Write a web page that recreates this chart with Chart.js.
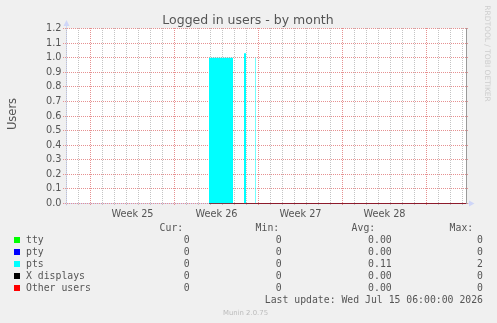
<!DOCTYPE html>
<html><head><meta charset="utf-8">
<script src="https://cdn.jsdelivr.net/npm/chart.js@4/dist/chart.umd.min.js"></script>
<style>html,body{margin:0;padding:0;background:#F0F0F0;overflow:hidden}canvas{display:block}</style>
</head><body>
<div style="width:497px;height:323px;position:relative"><canvas id="c" width="497" height="323"></canvas></div>
<script>
// ---- chart text ----
const chartTitle = 'Logged in users - by month';
const yAxisTitle = 'Users';
const watermark = 'RRDTOOL / TOBI OETIKER';
const lastUpdate = 'Last update: Wed Jul 15 06:00:00 2026';
const footer = 'Munin 2.0.75';

// ---- x axis: days relative to Mon 00:00 of Week 25 ----
const xMin = -2;
const xMax = 31.3333;
const weekStarts = [0, 7, 14, 21, 28];
const weekLabelPos = [3.5, 10.5, 17.5, 24.5];
const weekLabels = ['Week 25', 'Week 26', 'Week 27', 'Week 28'];

// ---- y axis ----
const yTicks = [0, 0.1, 0.2, 0.3, 0.4, 0.5, 0.6, 0.7, 0.8, 0.9, 1.0, 1.1, 1.2];

// ---- series (step change points: day, value) ----
const seriesNames = ['tty', 'pty', 'pts', 'X displays', 'Other users'];
const seriesColors = ['#00FF00', '#0000FF', '#00FFFF', '#000000', '#FF0000'];
const ptsDays = [9.875, 11.875, 12.7917, 12.9583, 13.725, 13.77, 31.3333];
const ptsValues = [1.0, 0, 1.03, 0, 1.0, 0, 0];
const zeroDays = [9.875, 31.3333];
const ttyValues = [0, 0];
const ptyValues = [0, 0];
const xdispValues = [0, 0];
const otherValues = [0, 0];

// ---- legend statistics ----
const curValues = ['0', '0', '0', '0', '0'];
const minValues = ['0', '0', '0', '0', '0'];
const avgValues = ['0.00', '0.00', '0.11', '0.00', '0.00'];
const maxValues = ['0', '0', '2', '0', '0'];

const GRID = 'rgb(196,196,196)';
const MGRID = 'rgb(230,145,145)';
const AXIS = '#CFD6F8';
const FONT = '#555555';

const dayTicks = [];
for (let d = Math.ceil(xMin); d <= Math.floor(xMax); d++) dayTicks.push(d);
const xTickValues = dayTicks.concat(weekLabelPos).sort((a, b) => a - b);

function pts(days, vals) { return days.map((d, i) => ({x: d, y: vals[i]})); }

const bgPlugin = {
  id: 'bg',
  beforeDraw(chart) {
    const c = chart.ctx, a = chart.chartArea;
    c.save();
    c.fillStyle = '#F0F0F0';
    c.fillRect(0, 0, chart.width, chart.height);
    c.fillStyle = '#FFFFFF';
    c.fillRect(a.left, a.top, a.right - a.left, a.bottom - a.top);
    c.restore();
  },
  beforeDatasetsDraw(chart) {
    const c = chart.ctx, a = chart.chartArea;
    const xs = chart.scales.x, ys = chart.scales.y;
    c.save();
    // axes (lavender) with arrows
    c.strokeStyle = AXIS; c.fillStyle = AXIS; c.lineWidth = 1;
    c.beginPath();
    c.moveTo(a.left, a.bottom + 2); c.lineTo(a.left, a.top - 5);
    c.moveTo(a.left - 3, a.bottom); c.lineTo(a.right + 4, a.bottom);
    c.stroke();
    c.beginPath();
    c.moveTo(a.left - 3, a.top - 2.5); c.lineTo(a.left + 3, a.top - 2.5); c.lineTo(a.left, a.top - 8.5); c.closePath(); c.fill();
    c.beginPath();
    c.moveTo(a.right + 2.5, a.bottom - 3); c.lineTo(a.right + 2.5, a.bottom + 3); c.lineTo(a.right + 8, a.bottom); c.closePath(); c.fill();
    // dotted grid (1 on, 1 off) placed through the chart scales
    const top = Math.floor(a.top), bot = Math.floor(a.bottom);
    const left = Math.floor(a.left), right = Math.floor(a.right);
    const vline = (col, color) => {
      c.fillStyle = color;
      for (let r = top; r <= bot + 2; r += 2) c.fillRect(col, r, 1, 1);
    };
    const hline = (row, color) => {
      c.fillStyle = color;
      for (let q = left - 3; q <= right + 1; q += 2) c.fillRect(q, row, 1, 1);
    };
    for (const d of dayTicks) {
      if (weekStarts.indexOf(d) < 0) vline(Math.floor(xs.getPixelForValue(d)), GRID);
    }
    for (const d of weekStarts) vline(Math.floor(xs.getPixelForValue(d)), MGRID);
    for (const v of yTicks) hline(Math.floor(ys.getPixelForValue(v)), MGRID);
    c.restore();
  },
  afterDatasetsDraw(chart) {
    const c = chart.ctx, a = chart.chartArea;
    c.save();
    c.strokeStyle = '#9A9A9A'; c.lineWidth = 1;
    c.beginPath(); c.moveTo(a.right, a.top - 0.5); c.lineTo(a.right, a.bottom); c.stroke();
    c.restore();
  },
  afterDraw(chart) {
    const c = chart.ctx;
    c.save();
    c.fillStyle = FONT;
    c.textBaseline = 'alphabetic';
    c.font = '12.5px "DejaVu Sans"';
    c.textAlign = 'center';
    c.fillText(chartTitle, 248, 23.5);
    // y title
    c.save();
    c.translate(15.5, 114); c.rotate(-Math.PI / 2);
    c.font = '11.5px "DejaVu Sans"';
    c.fillText(yAxisTitle, 0, 0);
    c.restore();
    // watermark
    c.save();
    c.translate(485, 53.5); c.rotate(Math.PI / 2);
    c.font = '7.5px "DejaVu Sans"';
    c.fillStyle = '#CDCDCD';
    c.fillText(watermark, 0, 0);
    c.restore();
    // legend
    c.font = '9.8px "DejaVu Sans Mono"';
    c.textAlign = 'right';
    c.fillText('Cur:', 183.2, 231);
    c.fillText('Min:', 279.2, 231);
    c.fillText('Avg:', 375.2, 231);
    c.fillText('Max:', 473.2, 231);
    seriesNames.forEach((n, i) => {
      const y = 243 + i * 12;
      c.fillStyle = seriesColors[i];
      c.fillRect(14, y - 6, 6, 6);
      c.fillStyle = FONT;
      c.textAlign = 'left';
      c.fillText(n, 26, y);
      c.textAlign = 'right';
      c.fillText(curValues[i], 189.7, y);
      c.fillText(minValues[i], 281.7, y);
      c.fillText(avgValues[i], 391.7, y);
      c.fillText(maxValues[i], 483, y);
    });
    c.fillText(lastUpdate, 483, 302.5);
    c.textAlign = 'center';
    c.font = '6.9px "DejaVu Sans"';
    c.fillStyle = '#BBBBBB';
    c.fillText(footer, 245.5, 315);
    c.restore();
  }
};

const lineDs = (label, vals, color, order) => ({
  label, data: pts(zeroDays, vals), borderColor: color, borderWidth: 1,
  pointRadius: 0, fill: false, stepped: true, order
});

new Chart(document.getElementById('c'), {
  type: 'line',
  data: {
    datasets: [
      lineDs(seriesNames[0], ttyValues, seriesColors[0], 4),
      lineDs(seriesNames[1], ptyValues, seriesColors[1], 3),
      {label: seriesNames[2], data: pts(ptsDays, ptsValues), borderWidth: 0, borderColor: 'rgba(0,0,0,0)',
       backgroundColor: seriesColors[2], fill: 'origin', stepped: true, pointRadius: 0, order: 0},
      lineDs(seriesNames[3], xdispValues, seriesColors[3], 2),
      lineDs(seriesNames[4], otherValues, seriesColors[4], 1)
    ]
  },
  options: {
    responsive: false, animation: false, devicePixelRatio: 1,
    layout: {padding: {left: 0, top: 28.5, right: 30.5, bottom: 0}},
    plugins: {legend: {display: false}, tooltip: {enabled: false}, title: {display: false}},
    scales: {
      x: {
        type: 'linear', min: xMin, max: xMax,
        afterBuildTicks: s => { s.ticks = xTickValues.map(v => ({value: v})); },
        afterFit: s => { s.height = 323 - 203.5; },
        grid: {display: false, drawTicks: true, tickLength: 3},
        border: {display: false},
        ticks: {
          autoSkip: false, maxRotation: 0, minRotation: 0, padding: 2,
          color: FONT, font: {family: 'DejaVu Sans', size: 9.72},
          callback: v => {
            const i = weekLabelPos.findIndex(p => Math.abs(p - v) < 1e-6);
            return i >= 0 ? weekLabels[i] : '';
          }
        }
      },
      y: {
        type: 'linear', min: 0, max: 1.2,
        afterBuildTicks: s => { s.ticks = yTicks.map(v => ({value: v})); },
        afterFit: s => { s.width = 66.5; },
        grid: {display: false, drawTicks: true, tickLength: 3},
        border: {display: false},
        ticks: {
          autoSkip: false, padding: 2, color: FONT, font: {family: 'DejaVu Sans', size: 9.72},
          callback: v => Number(v).toFixed(1)
        }
      }
    }
  },
  plugins: [bgPlugin]
});
</script>
</body></html>
